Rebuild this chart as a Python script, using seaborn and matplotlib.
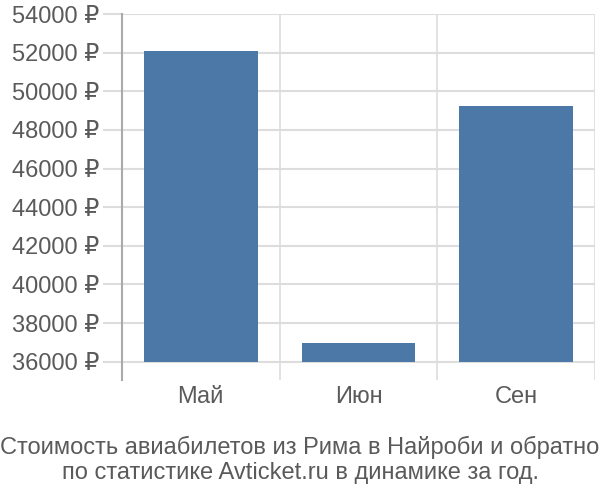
import matplotlib
matplotlib.use("Agg")
import matplotlib.pyplot as plt
import seaborn as sns
import pandas as pd
from matplotlib.ticker import FuncFormatter, FixedLocator

months = ["Май", "Июн", "Сен"]
prices = [52100, 36950, 49250]
yticks = [36000, 38000, 40000, 42000, 44000, 46000, 48000, 50000, 52000, 54000]
title = "Стоимость авиабилетов из Рима в Найроби и обратно\nпо статистике Avticket.ru в динамике за год."

sns.set_theme(style="white")
plt.rcParams['font.family'] = ['Liberation Sans', 'DejaVu Sans']

df = pd.DataFrame({"month": months, "price": prices})

fig = plt.figure(figsize=(6, 5), dpi=100)
ax = fig.add_axes([0.203, 0.24, 0.789, 0.732])

sns.barplot(data=df, x="month", y="price", color="#4c78a8", saturation=1,
            width=0.72, ax=ax, zorder=3)

base = 36000
for p, v in zip(ax.patches, prices):
    p.set_y(base)
    p.set_height(v - base)
    p.set_edgecolor("none")

ax.set_ylim(35053, 54000)
ax.set_xlim(-0.5, 2.5)
ax.set_yticks(yticks)
ax.yaxis.set_major_formatter(FuncFormatter(lambda v, _: f"{int(v)} ₽"))
ax.xaxis.set_minor_locator(FixedLocator([-0.5, 0.5, 1.5, 2.5]))

ax.grid(axis="y", which="major", color="#dddddd", linewidth=1.5, zorder=0)
ax.grid(axis="x", which="minor", color="#dddddd", linewidth=1.2, zorder=0)
ax.grid(axis="x", which="major", visible=False)

for s in ["top", "right", "bottom"]:
    ax.spines[s].set_visible(False)
ax.spines["left"].set_color("#aaaaaa")
ax.spines["left"].set_linewidth(1.5)

ax.tick_params(axis="y", which="major", length=14, width=1.5, color="#dddddd",
               pad=2, labelsize=17, labelcolor="#5a5a5a", left=True)
ax.tick_params(axis="x", which="major", length=0, pad=4, labelsize=17,
               labelcolor="#5a5a5a")
ax.tick_params(axis="x", which="minor", length=0)

ax.set_xlabel("")
ax.set_ylabel("")

fig.text(0.5, 0.08, title, ha="center", va="center", fontsize=17,
         color="#5a5a5a", linespacing=1.15)

fig.savefig("out.png", dpi=100, facecolor="white")
